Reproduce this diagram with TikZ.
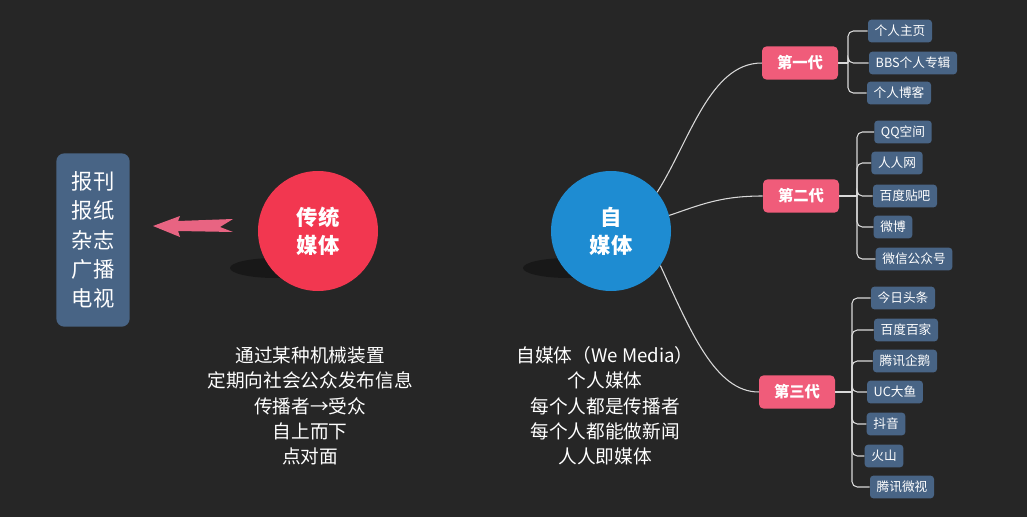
\documentclass[tikz,border=0pt]{standalone}
\usepackage{fontspec}
\setmainfont{Noto Sans CJK SC}
\begin{document}
\begin{tikzpicture}[x=0.75pt,y=-0.75pt,
  leaf/.style={fill=leafc,rounded corners=2.5pt,text=white,font=\fontsize{9.5}{11}\selectfont,inner xsep=5pt,minimum height=17pt},
  gen/.style={fill=genc,rounded corners=3.5pt,text=white,font=\fontsize{11.5}{13}\selectfont\bfseries,minimum width=57pt,minimum height=25pt},
  ln/.style={draw=white!85!black,line width=0.8pt},
  body/.style={text=white,font=\fontsize{14}{19}\selectfont,align=center}]
\definecolor{bg}{RGB}{38,38,38}
\definecolor{leafc}{RGB}{72,100,133}
\definecolor{genc}{RGB}{240,92,122}
\definecolor{redc}{RGB}{242,55,80}
\definecolor{bluec}{RGB}{30,140,210}
\definecolor{arrc}{RGB}{232,100,130}
\fill[bg] (0,0) rectangle (1027,517);
\useasboundingbox (0,0) rectangle (1027,517);
% left box
\node[fill=leafc,rounded corners=6pt,minimum width=55pt,minimum height=130pt,text=white,font=\fontsize{16}{22}\selectfont,align=center] (box) at (93,240) {报刊\\报纸\\杂志\\广播\\电视};
% arrow
\fill[arrc] (153,226) -- (180,216) -- (178,221) -- (233,219) -- (220,227) -- (233,232) -- (178,231) -- (180,237) -- cycle;
% shadows
\fill[black,opacity=0.35] (275,268) ellipse (45 and 10);
\fill[black,opacity=0.35] (568,268) ellipse (45 and 10);
% circles
\node[circle,fill=redc,minimum size=90pt,text=white,font=\fontsize{16}{21}\selectfont\bfseries,align=center] (trad) at (318,231) {传统\\媒体};
\node[circle,fill=bluec,minimum size=90pt,text=white,font=\fontsize{16}{21}\selectfont\bfseries,align=center] (self) at (611,231) {自\\媒体};
% texts
\node[body] (t1) at (310,406) {通过某种机械装置\\定期向社会公众发布信息\\传播者→受众\\自上而下\\点对面};
\node[body] (t2) at (605,406) {自媒体（We Media）\\个人媒体\\每个人都是传播者\\每个人都能做新闻\\人人即媒体};
% generations
\node[gen] (g1) at (800,63) {第一代};
\node[gen] (g2) at (801,196) {第二代};
\node[gen] (g3) at (797,392) {第三代};
\draw[ln] (self.40) .. controls (690,140) and (710,63) .. (g1.west);
\draw[ln] (self.15) .. controls (700,205) and (720,196) .. (g2.west);
\draw[ln] (self.-35) .. controls (690,330) and (715,392) .. (g3.west);
% leaves
\node[leaf] (a1) at (900,31) {个人主页};
\node[leaf] (a2) at (913,63) {BBS个人专辑};
\node[leaf] (a3) at (899,93) {个人博客};
\node[leaf] (b1) at (903,132) {QQ空间};
\node[leaf] (b2) at (897,163) {人人网};
\node[leaf] (b3) at (905,196) {百度贴吧};
\node[leaf] (b4) at (893,227) {微博};
\node[leaf] (b5) at (914,259) {微信公众号};
\node[leaf] (c1) at (903,298) {今日头条};
\node[leaf] (c2) at (906,330) {百度百家};
\node[leaf] (c3) at (905,361) {腾讯企鹅};
\node[leaf] (c4) at (895,392) {UC大鱼};
\node[leaf] (c5) at (886,424) {抖音};
\node[leaf] (c6) at (884,456) {火山};
\node[leaf] (c7) at (902,487) {腾讯微视};
% brackets
\draw[ln] (g1.east) -- (848,63);
\foreach \n in {a1,a2,a3} \draw[ln,rounded corners=4pt] (848,63) |- (\n.west);
\draw[ln] (g2.east) -- (857,196);
\foreach \n in {b1,b2,b3,b4,b5} \draw[ln,rounded corners=4pt] (857,196) |- (\n.west);
\draw[ln] (g3.east) -- (852,392);
\foreach \n in {c1,c2,c3,c4,c5,c6,c7} \draw[ln,rounded corners=4pt] (852,392) |- (\n.west);
\end{tikzpicture}
\end{document}
